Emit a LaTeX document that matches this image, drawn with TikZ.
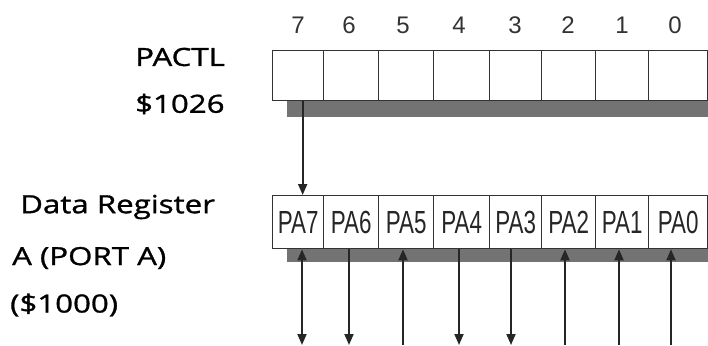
\documentclass[tikz,border=0pt]{standalone}
\usepackage{fontspec}
\usetikzlibrary{arrows.meta,calc}
\newfontfamily\lblfont[FakeStretch=1.25,FakeBold=1.2]{Open Sans}
\newfontfamily\pafont[FakeStretch=0.7]{Liberation Sans}
\newfontfamily\digfont{Liberation Sans}
\begin{document}
\begin{tikzpicture}[x=1pt,y=-1pt,
  cellbox/.style={draw=black!80,line width=1.3pt,inner sep=0pt,anchor=north west},
  shadowband/.style={fill=black!55},
  lbl/.style={anchor=west,inner sep=0pt,font=\lblfont\fontsize{25}{28}\selectfont},
  dig/.style={inner sep=0pt,font=\digfont\fontsize{24}{27}\selectfont,text=black!80},
  palbl/.style={inner sep=0pt,font=\pafont\fontsize{32}{35}\selectfont,text=black!85},
  arr/.style={line width=1.8pt,draw=black!85,-{Triangle[width=9pt,length=11pt]}},
  barr/.style={line width=1.8pt,draw=black!85,{Triangle[width=9pt,length=11pt]}-{Triangle[width=9pt,length=11pt]}},
  uarr/.style={line width=1.8pt,draw=black!85,{Triangle[width=9pt,length=11pt]}-}]
\useasboundingbox (0,0) rectangle (708,345);
\fill[white] (0,0) rectangle (708,345);
% shadows
\fill[shadowband] (287,101) rectangle (708,117);
\fill[shadowband] (287,249) rectangle (708,262);
% registers
\def\xs{{272,323,378,433,489,541,595,648,707}}
\foreach \i in {0,...,7}{
  \pgfmathsetmacro{\xa}{\xs[\i]}
  \pgfmathsetmacro{\xb}{\xs[\i+1]}
  \pgfmathtruncatemacro{\bit}{7-\i}
  \node[cellbox,minimum width=\xb-\xa,minimum height=50] (t\bit) at (\xa,50) {};
  \node[cellbox,minimum width=\xb-\xa,minimum height=53] (b\bit) at (\xa,195) {};
  \node[palbl] at (b\bit) {PA\bit};
}
% bit numbers
\node[dig] at (298,25) {7};
\node[dig] at (349,25) {6};
\node[dig] at (403,25) {5};
\node[dig] at (459,25) {4};
\node[dig] at (515,25) {3};
\node[dig] at (568,25) {2};
\node[dig] at (622,25) {1};
\node[dig] at (675,25) {0};
% left labels
\node[lbl] (pactl) at (135,57) {PACTL};
\node[lbl] (addr1) at (135,104) {\$1026};
\node[lbl] (dreg) at (20,207) {Data Register};
\node[lbl] (porta) at (12,258) {A (PORT A)};
\node[lbl] (addr2) at (10,305) {(\$1000)};
% control arrow
\draw[arr] ($(t7.south)+(4.5,0)$) -- ($(b7.north)+(4.5,0)$);
% port arrows
\coordinate (e7) at (302,345);
\coordinate (e6) at (349,345);
\coordinate (e5) at (403,345);
\coordinate (e4) at (459,345);
\coordinate (e3) at (511,345);
\coordinate (e2) at (565,345);
\coordinate (e1) at (619,345);
\coordinate (e0) at (671,345);
\draw[barr] (b7.south -| e7) -- (e7);
\draw[arr] (b6.south -| e6) -- (e6);
\draw[uarr] (b5.south -| e5) -- (e5);
\draw[arr] (b4.south -| e4) -- (e4);
\draw[arr] (b3.south -| e3) -- (e3);
\draw[uarr] (b2.south -| e2) -- (e2);
\draw[uarr] (b1.south -| e1) -- (e1);
\draw[uarr] (b0.south -| e0) -- (e0);
\end{tikzpicture}
\end{document}
